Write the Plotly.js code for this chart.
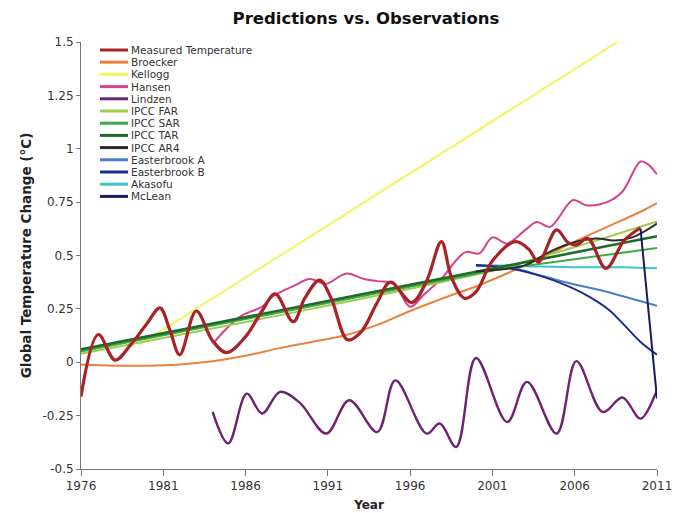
<!DOCTYPE html>
<html>
<head>
<meta charset="utf-8">
<script src="https://cdn.plot.ly/plotly-3.0.1.min.js"></script>
<style>html,body{margin:0;padding:0;background:#fff;}#chart{width:684px;height:513px;}</style>
</head>
<body>
<div id="chart"></div>
<script>
// ---- data ----
const seriesNames = ["Measured Temperature","Broecker","Kellogg","Hansen","Lindzen","IPCC FAR","IPCC SAR","IPCC TAR","IPCC AR4","Easterbrook A","Easterbrook B","Akasofu","McLean"];

const measuredYears = [1976,1977.05,1978.07,1979,1980,1980.8,1981.4,1982.0,1983.0,1984.0,1984.85,1986,1987,1987.8,1988.9,1989.6,1990.5,1991.2,1992.2,1993,1994,1994.8,1996.1,1997,1997.9,1998.5,1999.3,2000,2001,2002.4,2003.2,2003.8,2004.9,2005.6,2006.1,2006.8,2007.9,2009,2010];
const measuredValues = [-0.16,0.13,0.01,0.08,0.18,0.255,0.15,0.035,0.24,0.1,0.045,0.12,0.24,0.32,0.19,0.3,0.385,0.3,0.105,0.14,0.28,0.375,0.28,0.38,0.565,0.4,0.3,0.33,0.475,0.565,0.53,0.47,0.62,0.56,0.55,0.58,0.44,0.57,0.63];

const broeckerYears = [1976,1978,1980,1982,1984,1986,1988,1990,1992,1994,1996,1998,2000,2002,2004,2006,2008,2010,2011];
const broeckerValues = [-0.012,-0.016,-0.016,-0.01,0.005,0.03,0.065,0.095,0.125,0.175,0.24,0.3,0.355,0.42,0.49,0.565,0.635,0.705,0.745];

const kelloggYears = [1979.5,2008.6];
const kelloggValues = [0.08,1.5];

const hansenYears = [1984.1,1985,1985.8,1987,1987.6,1989,1989.9,1990.9,1992.1,1993.2,1994,1995,1996,1996.8,1998,1998.8,1999.4,2000.2,2001,2001.9,2003,2003.7,2004.5,2005.9,2006.7,2008.1,2008.9,2010,2010.4,2011];
const hansenValues = [0.095,0.17,0.22,0.26,0.306,0.36,0.39,0.368,0.415,0.39,0.38,0.368,0.26,0.314,0.4,0.478,0.517,0.51,0.585,0.556,0.62,0.657,0.634,0.76,0.735,0.755,0.8,0.94,0.93,0.88];

const lindzenYears = [1984.0,1984.95,1986.07,1987.0,1988.1,1989.3,1990.9,1992.3,1994.0,1995.1,1997.0,1997.8,1998.8,2000.0,2001.9,2003.1,2004.9,2006.1,2007.7,2008.9,2010.0,2010.9,2011];
const lindzenValues = [-0.233,-0.38,-0.147,-0.24,-0.139,-0.19,-0.334,-0.178,-0.327,-0.085,-0.334,-0.287,-0.397,0.02,-0.28,-0.092,-0.334,0.005,-0.233,-0.165,-0.264,-0.15,-0.13];

const farYears = [1976,1990,2001,2006,2011];
const farValues = [0.04,0.25,0.43,0.54,0.66];
const sarYears = [1976,2001,2011];
const sarValues = [0.05,0.43,0.535];
const tarYears = [1976,2001,2011];
const tarValues = [0.06,0.44,0.59];
const ar4Years = [2000,2003,2004.3,2005.7,2007.3,2008.4,2009.5,2011];
const ar4Values = [0.425,0.455,0.51,0.556,0.58,0.57,0.585,0.65];

const easterAYears = [2000,2002,2004,2005.7,2007.7,2009.8,2011];
const easterAValues = [0.45,0.445,0.405,0.37,0.335,0.29,0.265];
const easterBYears = [2000,2002,2004.1,2005.7,2006.9,2008.1,2009,2010,2011];
const easterBValues = [0.455,0.44,0.4,0.353,0.306,0.244,0.175,0.095,0.035];
const akasofuYears = [2000,2003,2006,2009,2011];
const akasofuValues = [0.455,0.45,0.445,0.445,0.44];
const mcleanYears = [2010,2011];
const mcleanValues = [0.625,-0.17];

const yTickVals = [-0.5,-0.25,0,0.25,0.5,0.75,1,1.25,1.5];
const yTickText = ["-0.5","-0.25","0","0.25","0.5","0.75","1","1.25","1.5"];
const xTickVals = [1976,1981,1986,1991,1996,2001,2006,2011];

// ---- styles ----
const FONT = "DejaVu Sans, Verdana, sans-serif";
const colors = ["#a82226","#e8833e","#f2f55c","#d6408e","#6e2272","#9ccd4e","#3faa45","#1e6b2a","#2b2b2b","#4b7fc9","#1d2d8e","#3fc3d2","#1a1a5c"];
const widths = [3.2,2,2,2,2.4,2,2,2.6,2,2,2,2,2];
const allX = [measuredYears,broeckerYears,kelloggYears,hansenYears,lindzenYears,farYears,sarYears,tarYears,ar4Years,easterAYears,easterBYears,akasofuYears,mcleanYears];
const allY = [measuredValues,broeckerValues,kelloggValues,hansenValues,lindzenValues,farValues,sarValues,tarValues,ar4Values,easterAValues,easterBValues,akasofuValues,mcleanValues];

// draw order (later drawn on top)
const order = [2,1,3,4,11,9,10,5,6,7,8,0,12];
const traces = order.map(i => ({
  x: allX[i], y: allY[i], name: seriesNames[i], type: "scatter", mode: "lines",
  line: {color: colors[i], width: widths[i], shape: (allX[i].length > 3 ? "spline" : "linear"), smoothing: 1},
  showlegend: false, hoverinfo: "skip"
}));

// manual legend (paper coords)
const L = 81, T = 42, W = 576, H = 427;
const px = v => (v - L) / W;
const py = v => 1 - (v - T) / H;
const shapes = [];
const annotations = [];
seriesNames.forEach((n, i) => {
  const yc = 50 + 12.2 * i;
  shapes.push({type: "line", xref: "paper", yref: "paper", x0: px(100), x1: px(128), y0: py(yc), y1: py(yc),
    line: {color: colors[i], width: 3}});
  annotations.push({xref: "paper", yref: "paper", x: px(130), y: py(yc), xanchor: "left", yanchor: "middle",
    borderpad: 0,
    text: n, showarrow: false, font: {family: FONT, size: 10.5, color: "#333"}});
});

const layout = {
  width: 684, height: 513,
  margin: {l: 81, r: 27, t: 42, b: 44},
  paper_bgcolor: "#fff", plot_bgcolor: "#fff",
  showlegend: false,
  title: {text: "Predictions vs. Observations", x: 0.535, xanchor: "center", y: 0.965, yanchor: "middle",
    font: {family: FONT, size: 16.5, color: "#111", weight: "bold"}},
  xaxis: {range: [1976, 2011], tickvals: xTickVals, ticks: "outside", ticklen: 6, tickcolor: "#777",
    showline: true, linecolor: "#777", linewidth: 1, showgrid: false, zeroline: false,
    tickfont: {family: FONT, size: 12, color: "#333"},
    title: {text: "Year", standoff: 8, font: {family: FONT, size: 12, color: "#222", weight: "bold"}}},
  yaxis: {range: [-0.5, 1.5], tickvals: yTickVals, ticktext: yTickText, ticks: "outside", ticklen: 4, tickcolor: "#777",
    showline: true, linecolor: "#777", linewidth: 1, showgrid: false, zeroline: false,
    tickfont: {family: FONT, size: 12, color: "#333"},
    title: {text: "Global Temperature Change (°C)", standoff: 7, font: {family: FONT, size: 13.5, color: "#222", weight: "bold"}}},
  shapes: shapes,
  annotations: annotations
};

Plotly.newPlot("chart", traces, layout, {displayModeBar: false, staticPlot: true});
</script>
</body>
</html>
